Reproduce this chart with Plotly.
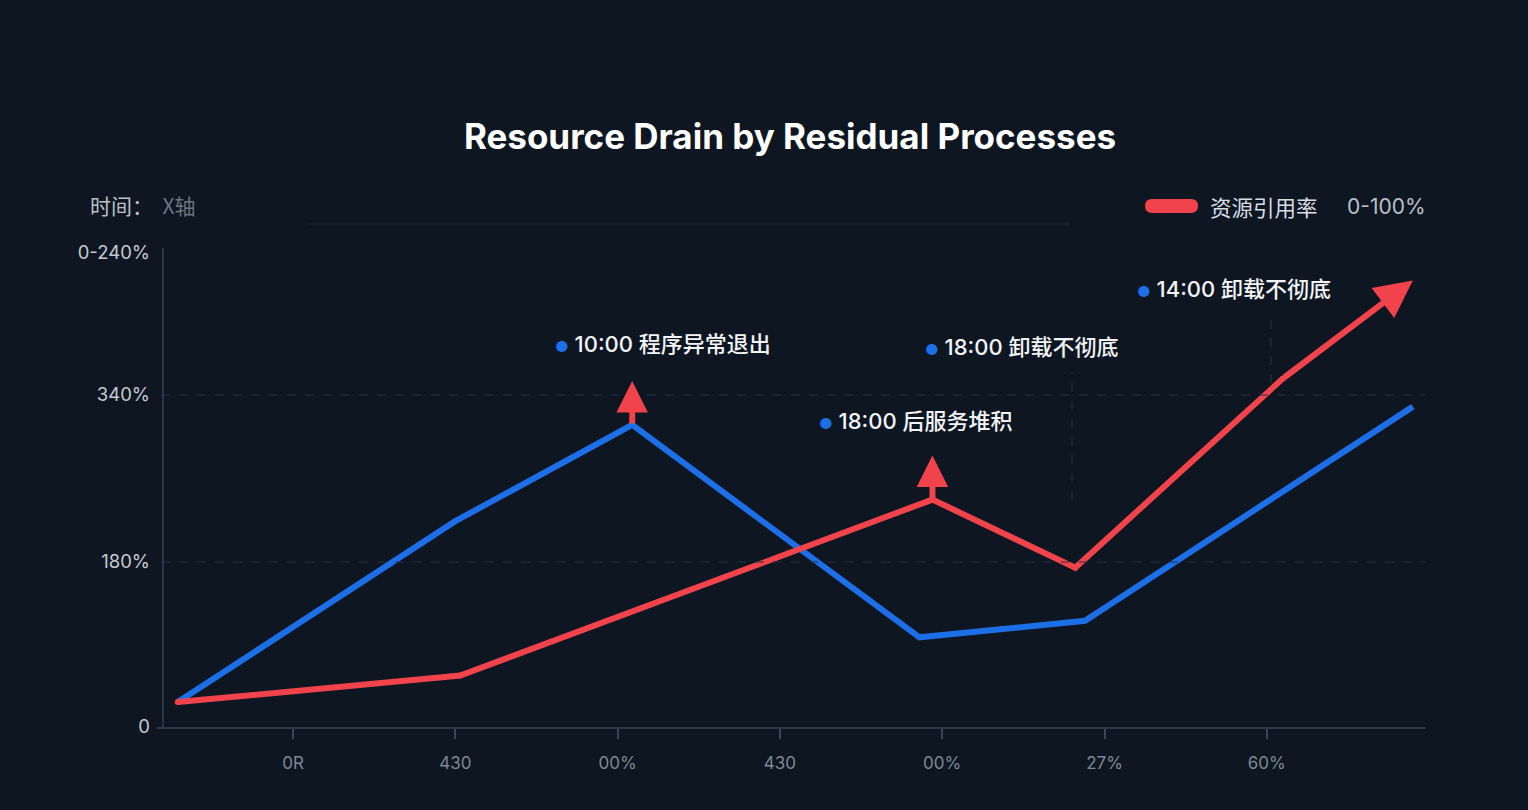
import plotly.graph_objects as go

# ---- data (axis units; ticks are category slots) ----
x_ticks = [1, 2, 3, 4, 5, 6, 7]
x_labels = ["0R", "430", "00%", "430", "00%", "27%", "60%"]
y_ticks = [0, 0.994, 2.0, 2.861]
y_labels = ["0", "180%", "340%", "0-240%"]

blue_x = [0.29, 2.0, 3.09, 4.86, 5.88, 7.90]
blue_y = [0.15, 1.24, 1.82, 0.54, 0.64, 1.93]

red_x = [0.29, 2.03, 4.94, 5.82, 7.10]
red_y = [0.15, 0.31, 1.37, 0.96, 2.10]
red_end = (7.90, 2.69)

event_labels = ["10:00 程序异常退出", "18:00 卸载不彻底", "18:00 后服务堆积", "14:00 卸载不彻底"]
event_x = [2.60, 4.88, 4.23, 6.19]
event_y = [2.307, 2.289, 1.843, 2.639]

legend_name = "资源引用率"
legend_range = "0-100%"

BG = "#0e1622"
BLUE = "#1c6fe6"
RED = "#f0434b"
GRID = "#263141"
CJK = "Inter, 'Noto Sans CJK SC', sans-serif"

fig = go.Figure()
fig.add_trace(go.Scatter(x=blue_x, y=blue_y, mode="lines", name="blue",
                         line=dict(color=BLUE, width=6), showlegend=False))
fig.add_trace(go.Scatter(x=red_x, y=red_y, mode="lines+markers", name=legend_name,
                         line=dict(color=RED, width=6),
                         marker=dict(size=6, color=RED, line=dict(width=0)),
                         showlegend=False))

annotations = []
# final red arrow
annotations.append(dict(x=red_end[0], y=red_end[1], ax=red_x[-1], ay=red_y[-1],
                        xref="x", yref="y", axref="x", ayref="y", text="",
                        showarrow=True, arrowhead=2, arrowwidth=6, arrowsize=1.25,
                        arrowcolor=RED, standoff=0, startstandoff=0))
# small up arrows at peak points
arrow_off = 44 / 166.0
for (px, py) in [(blue_x[2], blue_y[2]), (red_x[2], red_y[2])]:
    annotations.append(dict(x=px, y=py + arrow_off, ax=px, ay=py,
                            xref="x", yref="y", axref="x", ayref="y", text="",
                            showarrow=True, arrowhead=2, arrowwidth=6, arrowsize=1.05,
                            arrowcolor=RED, standoff=0, startstandoff=0))
for t, ex, ey in zip(event_labels, event_x, event_y):
    annotations.append(dict(x=ex, y=ey, xref="x", yref="y", xanchor="left", yanchor="middle",
                            text=f"<span style='color:{BLUE};font-size:15px'>●</span> {t}",
                            showarrow=False,
                            font=dict(size=22, color="#f2f4f7", family=CJK, weight=500)))
# header "时间：X轴"
annotations.append(dict(x=(88 - 157) / 1268, y=(727 - 205) / 487, xref="paper", yref="paper",
                        xanchor="left", yanchor="middle", showarrow=False,
                        text="时间：<span style='color:#6b7480'>  X轴</span>",
                        font=dict(size=21, color="#b9c0c8",
                                  family="'Noto Sans CJK SC', sans-serif")))
# legend texts
annotations.append(dict(x=(1208 - 157) / 1268, y=(727 - 206) / 487, xref="paper", yref="paper",
                        xanchor="left", yanchor="middle", showarrow=False, text=legend_name,
                        font=dict(size=21.5, color="#d8dde3",
                                  family="'Noto Sans CJK SC', sans-serif")))
annotations.append(dict(x=(1345 - 157) / 1268, y=(727 - 206) / 487, xref="paper", yref="paper",
                        xanchor="left", yanchor="middle", showarrow=False, text=legend_range,
                        font=dict(size=21, color="#b9c0c8", family="Inter, sans-serif")))

shapes = []
for gy in [y_ticks[1], y_ticks[2]]:
    shapes.append(dict(type="line", xref="paper", yref="y", x0=0.003, x1=1, y0=gy, y1=gy,
                       line=dict(color=GRID, width=1.2, dash="dash")))
# y axis line
shapes.append(dict(type="line", xref="paper", yref="paper", x0=6 / 1268, x1=6 / 1268,
                   y0=0, y1=(727 - 248) / 487, line=dict(color="#2a3546", width=2)))
# header rule
shapes.append(dict(type="line", xref="paper", yref="paper", x0=(310 - 157) / 1268,
                   x1=(1070 - 157) / 1268, y0=(727 - 224) / 487, y1=(727 - 224) / 487,
                   line=dict(color="#1c2633", width=1.5)))
# faint vertical dashed guides
shapes.append(dict(type="line", xref="paper", yref="paper", x0=(1072 - 157) / 1268,
                   x1=(1072 - 157) / 1268, y0=(727 - 500) / 487, y1=(727 - 372) / 487,
                   line=dict(color=GRID, width=1.2, dash="dash")))
shapes.append(dict(type="line", xref="paper", yref="paper", x0=(1271 - 157) / 1268,
                   x1=(1271 - 157) / 1268, y0=(727 - 383) / 487, y1=(727 - 320) / 487,
                   line=dict(color=GRID, width=1.2, dash="dash")))
# legend swatch (rounded bar)
shapes.append(dict(type="path", xref="paper", yref="paper", xsizemode="pixel", ysizemode="pixel",
                   xanchor=(1171.5 - 157) / 1268, yanchor=(727 - 206) / 487,
                   path="M-19.5,-7 L19.5,-7 Q26.5,-7 26.5,0 Q26.5,7 19.5,7 L-19.5,7 "
                        "Q-26.5,7 -26.5,0 Q-26.5,-7 -19.5,-7 Z",
                   fillcolor=RED, line=dict(width=0)))

fig.update_layout(
    width=1528, height=810,
    paper_bgcolor=BG, plot_bgcolor=BG,
    margin=dict(l=157, r=103, t=240, b=83),
    showlegend=False,
    title=dict(text="<b>Resource Drain by Residual Processes</b>", x=790 / 1528, xanchor="center",
               xref="container", y=1 - 137 / 810, yanchor="middle", yref="container",
               font=dict(size=35, color="#ffffff", family="Inter, sans-serif")),
    xaxis=dict(range=[(157 - 293) / 162.3 + 1, (1425 - 293) / 162.3 + 1],
               tickvals=x_ticks, ticktext=x_labels, showgrid=False, zeroline=False,
               showline=True, linecolor="#2e3948", linewidth=2,
               ticks="outside", ticklen=10, tickwidth=2, tickcolor="#3a4556",
               ticklabelstandoff=10,
               tickfont=dict(size=17, color="#7f8894", family="Inter, sans-serif")),
    yaxis=dict(range=[0, (727 - 240) / 166], tickvals=y_ticks, ticktext=y_labels,
               showgrid=False, zeroline=False, showline=False, ticks="",
               ticklabelstandoff=6,
               tickfont=dict(size=18.5, color="#c3c9d0", family="Inter, sans-serif")),
    annotations=annotations,
    shapes=shapes,
)

fig.write_html("out.html", config={"displayModeBar": False},
               post_script="document.body.style.margin='0px';")
